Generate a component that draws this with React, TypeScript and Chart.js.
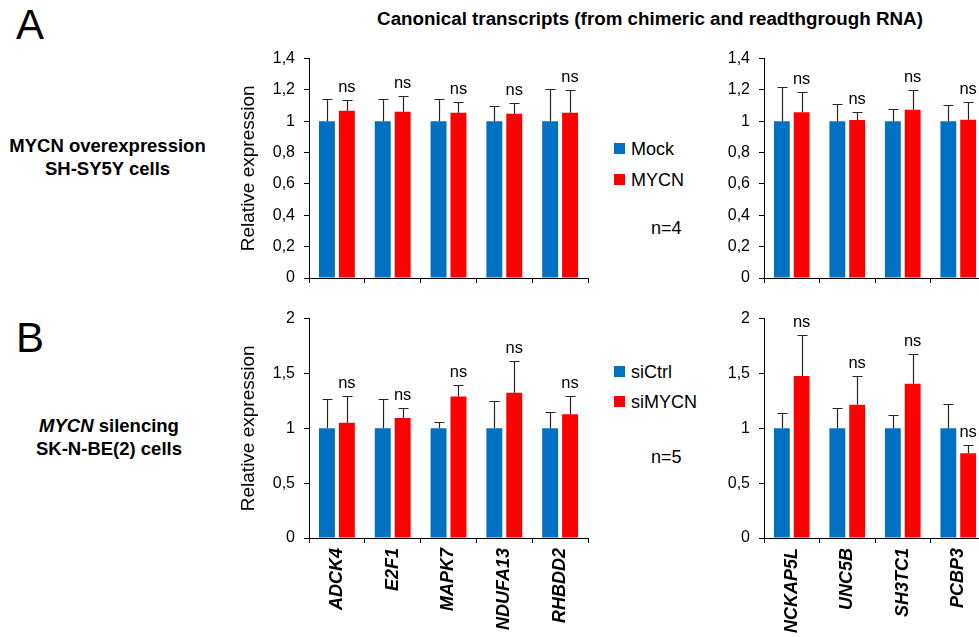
import React, { useEffect, useRef } from 'react';
import { Chart, registerables } from 'chart.js';

Chart.register(...registerables);

// ---------- data ----------
const categoriesLeft = ['ADCK4', 'E2F1', 'MAPK7', 'NDUFA13', 'RHBDD2'];
const categoriesRight = ['NCKAP5L', 'UNC5B', 'SH3TC1', 'PCBP3'];

const seriesA = ['Mock', 'MYCN'];
const seriesB = ['siCtrl', 'siMYCN'];

// Panel A (MYCN overexpression, n=4)
const mockLeft = [1, 1, 1, 1, 1];
const mockLeftErr = [0.145, 0.142, 0.14, 0.1, 0.207];
const mycnLeft = [1.067, 1.061, 1.055, 1.048, 1.055];
const mycnLeftErr = [0.068, 0.101, 0.069, 0.07, 0.145];

const mockRight = [1, 1, 1, 1];
const mockRightErr = [0.221, 0.111, 0.08, 0.101];
const mycnRight = [1.057, 1.008, 1.073, 1.01];
const mycnRightErr = [0.133, 0.053, 0.127, 0.114];

// Panel B (MYCN silencing, n=5)
const siCtrlLeft = [1, 1, 1, 1, 1];
const siCtrlLeftErr = [0.267, 0.264, 0.059, 0.248, 0.152];
const siMycnLeft = [1.05, 1.095, 1.29, 1.323, 1.128];
const siMycnLeftErr = [0.246, 0.087, 0.108, 0.289, 0.162];

const siCtrlRight = [1, 1, 1, 1];
const siCtrlRightErr = [0.14, 0.188, 0.119, 0.224];
const siMycnRight = [1.477, 1.215, 1.405, 0.773];
const siMycnRightErr = [0.372, 0.262, 0.273, 0.072];

const sigLeft = ['ns', 'ns', 'ns', 'ns', 'ns'];
const sigRight = ['ns', 'ns', 'ns', 'ns'];

const ticksA = ['0', '0,2', '0,4', '0,6', '0,8', '1', '1,2', '1,4'];
const ticksB = ['0', '0,5', '1', '1,5', '2'];

const nLabelA = 'n=4';
const nLabelB = 'n=5';

// ---------- style ----------
const FONT = "'Liberation Sans', Arial, Helvetica, sans-serif";
const BLUE = '#0070C0';
const RED = '#FF0000';
const INK = '#000000';
const ERR = '#262626';

const errorBarPlugin = {
  id: 'errorBars',
  afterDatasetsDraw(chart: any, _args: any, opts: any) {
    const { ctx } = chart;
    const yScale = chart.scales.y;
    const errors: number[][] = opts.errors || [];
    const sig: string[] = opts.sig || [];
    ctx.save();
    ctx.strokeStyle = ERR;
    ctx.lineWidth = 1.2;
    chart.data.datasets.forEach((ds: any, di: number) => {
      const meta = chart.getDatasetMeta(di);
      meta.data.forEach((bar: any, j: number) => {
        const v = ds.data[j];
        const e = errors[di] ? errors[di][j] : 0;
        const yTop = yScale.getPixelForValue(v + e);
        const yBar = yScale.getPixelForValue(v);
        const x = Math.round(bar.x) + 0.5;
        ctx.beginPath();
        ctx.moveTo(x, yBar);
        ctx.lineTo(x, Math.round(yTop) + 0.5);
        ctx.moveTo(x - 5, Math.round(yTop) + 0.5);
        ctx.lineTo(x + 5, Math.round(yTop) + 0.5);
        ctx.stroke();
        if (di === 1 && sig[j]) {
          ctx.fillStyle = INK;
          ctx.font = `16.5px ${FONT}`;
          ctx.textAlign = 'center';
          ctx.textBaseline = 'alphabetic';
          ctx.fillText(sig[j], bar.x, yTop - 8);
        }
      });
    });
    ctx.restore();
  },
};

interface PanelSpec {
  labels: string[];
  series: string[];
  ctrl: number[];
  ctrlErr: number[];
  treat: number[];
  treatErr: number[];
  sig: string[];
  tickLabels: string[];
  max: number;
  step: number;
  yWidth: number;
  xHeight: number;
  padRight: number;
  showTitle: boolean;
  showXLabels: boolean;
}

function makeConfig(p: PanelSpec): any {
  return {
    type: 'bar',
    data: {
      labels: p.labels,
      datasets: [
        {
          label: p.series[0],
          data: p.ctrl,
          backgroundColor: BLUE,
          categoryPercentage: 0.714,
          barPercentage: 0.8,
        },
        {
          label: p.series[1],
          data: p.treat,
          backgroundColor: RED,
          categoryPercentage: 0.714,
          barPercentage: 0.8,
        },
      ],
    },
    options: {
      responsive: false,
      animation: false,
      layout: { padding: { top: 16, right: p.padRight, bottom: 0, left: 0 } },
      plugins: {
        legend: { display: false },
        tooltip: { enabled: false },
        errorBars: { errors: [p.ctrlErr, p.treatErr], sig: p.sig },
      },
      scales: {
        x: {
          grid: {
            display: true,
            drawOnChartArea: false,
            drawTicks: true,
            tickLength: 5,
            color: INK,
            offset: true,
          },
          border: { display: true, color: INK, width: 1 },
          ticks: {
            display: p.showXLabels,
            autoSkip: false,
            minRotation: 90,
            maxRotation: 90,
            padding: 5,
            color: INK,
            font: { family: FONT, size: 18, style: 'italic', weight: 'bold' },
          },
          afterFit: (s: any) => {
            s.height = p.xHeight;
          },
        },
        y: {
          min: 0,
          max: p.max,
          ticks: {
            stepSize: p.step,
            padding: 9,
            color: INK,
            font: { family: FONT, size: 16 },
            callback: (_v: any, i: number) => p.tickLabels[i],
          },
          grid: { drawOnChartArea: false, drawTicks: true, tickLength: 5, color: INK },
          border: { display: true, color: INK, width: 1 },
          title: {
            display: p.showTitle,
            text: 'Relative expression',
            color: INK,
            font: { family: FONT, size: 19 },
            padding: { top: 3, bottom: 4 },
          },
          afterFit: (s: any) => {
            s.width = p.yWidth;
          },
        },
      },
    },
    plugins: [errorBarPlugin],
  };
}

function ChartCanvas(props: { spec: PanelSpec; left: number; top: number; width: number; height: number }) {
  const ref = useRef<HTMLCanvasElement>(null);
  useEffect(() => {
    const chart = new Chart(ref.current as HTMLCanvasElement, makeConfig(props.spec));
    return () => chart.destroy();
  }, []);
  return (
    <canvas
      ref={ref}
      width={props.width}
      height={props.height}
      style={{ position: 'absolute', left: props.left, top: props.top, width: props.width, height: props.height }}
    />
  );
}

const abs = (left: number, top: number, extra: React.CSSProperties = {}): React.CSSProperties => ({
  position: 'absolute',
  left,
  top,
  whiteSpace: 'nowrap',
  color: INK,
  ...extra,
});

function LegendItem(props: { color: string; label: string; x: number; y: number }) {
  return (
    <div style={abs(props.x, props.y - 11, { height: 22, lineHeight: '22px', fontSize: 18 })}>
      <span
        style={{
          display: 'inline-block',
          width: 11,
          height: 11,
          background: props.color,
          marginRight: 6,
          verticalAlign: 'middle',
          position: 'relative',
          top: -1,
        }}
      />
      <span style={{ verticalAlign: 'middle' }}>{props.label}</span>
    </div>
  );
}

export default function App() {
  const specALeft: PanelSpec = {
    labels: categoriesLeft, series: seriesA, ctrl: mockLeft, ctrlErr: mockLeftErr, treat: mycnLeft,
    treatErr: mycnLeftErr, sig: sigLeft, tickLabels: ticksA, max: 1.4, step: 0.2, yWidth: 75, xHeight: 22,
    padRight: 12, showTitle: true, showXLabels: false,
  };
  const specARight: PanelSpec = {
    labels: categoriesRight, series: seriesA, ctrl: mockRight, ctrlErr: mockRightErr, treat: mycnRight,
    treatErr: mycnRightErr, sig: sigRight, tickLabels: ticksA, max: 1.4, step: 0.2, yWidth: 64, xHeight: 22,
    padRight: 10, showTitle: false, showXLabels: false,
  };
  const specBLeft: PanelSpec = {
    labels: categoriesLeft, series: seriesB, ctrl: siCtrlLeft, ctrlErr: siCtrlLeftErr, treat: siMycnLeft,
    treatErr: siMycnLeftErr, sig: sigLeft, tickLabels: ticksB, max: 2, step: 0.5, yWidth: 75, xHeight: 99,
    padRight: 12, showTitle: true, showXLabels: true,
  };
  const specBRight: PanelSpec = {
    labels: categoriesRight, series: seriesB, ctrl: siCtrlRight, ctrlErr: siCtrlRightErr, treat: siMycnRight,
    treatErr: siMycnRightErr, sig: sigRight, tickLabels: ticksB, max: 2, step: 0.5, yWidth: 64, xHeight: 99,
    padRight: 10, showTitle: false, showXLabels: true,
  };

  return (
    <div
      style={{
        position: 'absolute',
        left: 0,
        top: 0,
        width: 979,
        height: 637,
        overflow: 'hidden',
        background: '#ffffff',
        fontFamily: FONT,
        color: INK,
      }}
    >
      <div style={abs(16, 4, { fontSize: 42, lineHeight: '42px' })}>A</div>
      <div style={abs(16, 317, { fontSize: 42, lineHeight: '42px' })}>B</div>

      <div style={abs(350, 8, { width: 600, textAlign: 'center', fontSize: 18.8, fontWeight: 'bold', lineHeight: '22px' })}>
        Canonical transcripts (from chimeric and readthgrough RNA)
      </div>

      <div style={abs(0, 134, { width: 215, textAlign: 'center', fontSize: 18.5, fontWeight: 'bold', lineHeight: '23px' })}>
        MYCN overexpression
        <br />
        SH-SY5Y cells
      </div>
      <div style={abs(0, 414, { width: 218, textAlign: 'center', fontSize: 18.5, fontWeight: 'bold', lineHeight: '23px' })}>
        <i>MYCN</i> silencing
        <br />
        SK-N-BE(2) cells
      </div>

      <ChartCanvas spec={specALeft} left={234} top={40} width={366} height={260} />
      <ChartCanvas spec={specARight} left={700} top={40} width={296} height={260} />
      <ChartCanvas spec={specBLeft} left={234} top={300} width={366} height={337} />
      <ChartCanvas spec={specBRight} left={700} top={300} width={296} height={337} />

      <LegendItem color={BLUE} label={seriesA[0]} x={614} y={148} />
      <LegendItem color={RED} label={seriesA[1]} x={614} y={179} />
      <div style={abs(651, 217, { fontSize: 18, lineHeight: '22px' })}>{nLabelA}</div>

      <LegendItem color={BLUE} label={seriesB[0]} x={614} y={371} />
      <LegendItem color={RED} label={seriesB[1]} x={614} y={401} />
      <div style={abs(651, 446, { fontSize: 18, lineHeight: '22px' })}>{nLabelB}</div>
    </div>
  );
}
